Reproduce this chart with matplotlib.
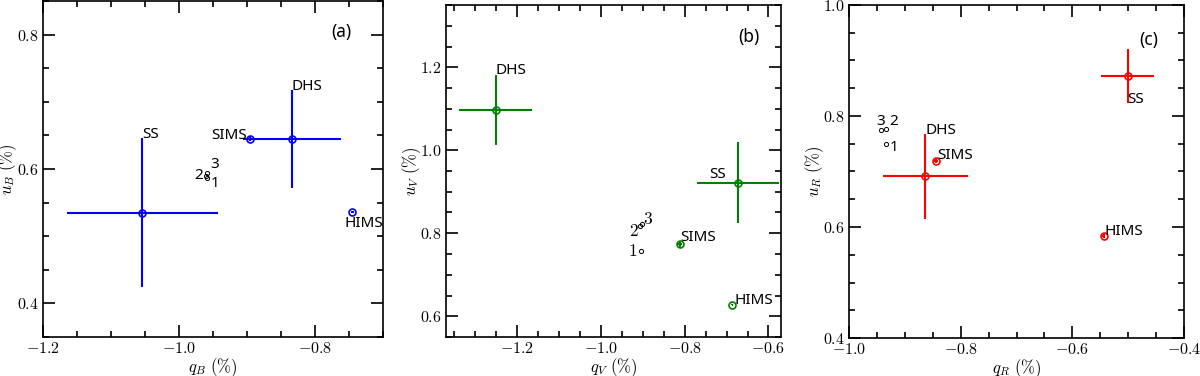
import numpy as np
import matplotlib
matplotlib.use('Agg')
import matplotlib.pyplot as plt
from matplotlib.ticker import MultipleLocator, FuncFormatter

plt.rcParams['mathtext.fontset'] = 'cm'
plt.rcParams['font.family'] = ['Noto Sans', 'DejaVu Sans']

# stanja: SS, SIMS, DHS, HIMS
states = ['SS', 'SIMS', 'DHS', 'HIMS']

# panel (a), B filter
qB = [-1.054, -0.895, -0.834, -0.745]
uB = [0.535, 0.645, 0.645, 0.536]
qB_err = [0.111, 0.004, 0.072, 0.002]
uB_err = [0.111, 0.004, 0.073, 0.002]
qB_ep = [-0.959, -0.961, -0.959]   # epohe 1, 2, 3
uB_ep = [0.587, 0.590, 0.594]

# panel (b), V filter
qV = [-0.672, -0.812, -1.251, -0.686]
uV = [0.922, 0.774, 1.097, 0.628]
qV_err = [0.098, 0.006, 0.087, 0.002]
uV_err = [0.098, 0.006, 0.085, 0.002]
qV_ep = [-0.905, -0.906, -0.903]
uV_ep = [0.757, 0.818, 0.823]

# panel (c), R filter
qR = [-0.501, -0.844, -0.863, -0.544]
uR = [0.872, 0.719, 0.691, 0.584]
qR_err = [0.048, 0.004, 0.076, 0.003]
uR_err = [0.049, 0.004, 0.076, 0.003]
qR_ep = [-0.934, -0.934, -0.943]
uR_ep = [0.750, 0.777, 0.775]

ep_labels = ['1', '2', '3']

fig = plt.figure(figsize=(12, 3.76), dpi=100)


def tick_fmt(v, p):
    return '$%.1f$' % v


def panel(rect, q, u, qe, ue, qep, uep, color, xlim, ylim, xl, yl, tag, tagpos,
          lab_pos, ep_pos, ep_serif=False):
    ax = fig.add_axes(rect)
    for i in range(len(q)):
        ax.errorbar(q[i], u[i], xerr=qe[i], yerr=ue[i], fmt='o', mfc='none',
                    mec=color, ms=5, mew=1.2, ecolor=color, elinewidth=1.5,
                    capsize=0)
        anchor, dx, dy, ha = lab_pos[i]
        if anchor == 'top':
            xy = (q[i], u[i] + ue[i])
        elif anchor == 'bot':
            xy = (q[i], u[i] - ue[i])
        else:
            xy = (q[i], u[i])
        ax.annotate(states[i], xy, xytext=(dx, dy), textcoords='offset pixels',
                    ha=ha, va='baseline', fontsize=11)
    ax.plot(qep, uep, 'o', mfc='none', mec='black', ms=3, mew=0.7)
    for i in range(len(qep)):
        dx, dy, ha = ep_pos[i]
        txt = ('$%s$' % ep_labels[i]) if ep_serif else ep_labels[i]
        ax.annotate(txt, (qep[i], uep[i]), xytext=(dx, dy),
                    textcoords='offset pixels', ha=ha, va='baseline',
                    fontsize=12.5 if ep_serif else 11)
    ax.set_xlim(xlim)
    ax.set_ylim(ylim)
    ax.xaxis.set_major_locator(MultipleLocator(0.2))
    ax.yaxis.set_major_locator(MultipleLocator(0.2))
    ax.xaxis.set_minor_locator(MultipleLocator(0.05))
    ax.yaxis.set_minor_locator(MultipleLocator(0.05))
    ax.xaxis.set_major_formatter(FuncFormatter(tick_fmt))
    ax.yaxis.set_major_formatter(FuncFormatter(tick_fmt))
    ax.tick_params(which='both', direction='in', top=True, right=True,
                   labelsize=11.5, width=1.2, pad=3)
    ax.tick_params(which='major', length=8.5)
    ax.tick_params(which='minor', length=4.5)
    for s in ax.spines.values():
        s.set_linewidth(1.2)
    ax.set_xlabel(xl, fontsize=12)
    ax.set_ylabel(yl, fontsize=12)
    ax.xaxis.set_label_coords(0.5, -0.058)
    ax.yaxis.set_label_coords(-0.07, 0.5)
    ax.text(tagpos[0], tagpos[1], tag, transform=ax.transAxes, fontsize=12.5,
            ha='left', va='center')
    return ax


panel([43 / 1200, 39 / 376, 340 / 1200, 336 / 376], qB, uB, qB_err, uB_err,
      qB_ep, uB_ep, 'blue', (-1.2, -0.7), (0.35, 0.85),
      r'$q_B\ (\%)$', r'$u_B\ (\%)$', '(a)', (0.849, 0.908),
      [('top', 0, 0, 'left'), ('pt', -3, 0, 'right'), ('top', 0, 0, 'left'),
       ('pt', -8, -15, 'left')],
      [(4, -9, 'left'), (-3, -3, 'right'), (3, 5, 'left')])

panel([446 / 1200, 39 / 376, 335 / 1200, 332 / 376], qV, uV, qV_err, uV_err,
      qV_ep, uV_ep, 'green', (-1.37, -0.57), (0.55, 1.35),
      r'$q_V\ (\%)$', r'$u_V\ (\%)$', '(b)', (0.872, 0.905),
      [('pt', -12, 5, 'right'), ('pt', 1, 3, 'left'), ('top', 0, 1, 'left'),
       ('pt', 2, 1, 'left')],
      [(-3, -5, 'right'), (-2, -10, 'right'), (1, 0, 'left')], ep_serif=True)

panel([849 / 1200, 38 / 376, 335 / 1200, 333 / 376], qR, uR, qR_err, uR_err,
      qR_ep, uR_ep, 'red', (-1.0, -0.4), (0.4, 1.0),
      r'$q_R\ (\%)$', r'$u_R\ (\%)$', '(c)', (0.866, 0.895),
      [('bot', 0, 0, 'left'), ('pt', 1, 2, 'left'), ('top', 0, 0, 'left'),
       ('pt', 1, 1, 'left')],
      [(4, -7, 'left'), (3, 4, 'left'), (0, 5, 'center')])

fig.savefig('out.png', dpi=100)
